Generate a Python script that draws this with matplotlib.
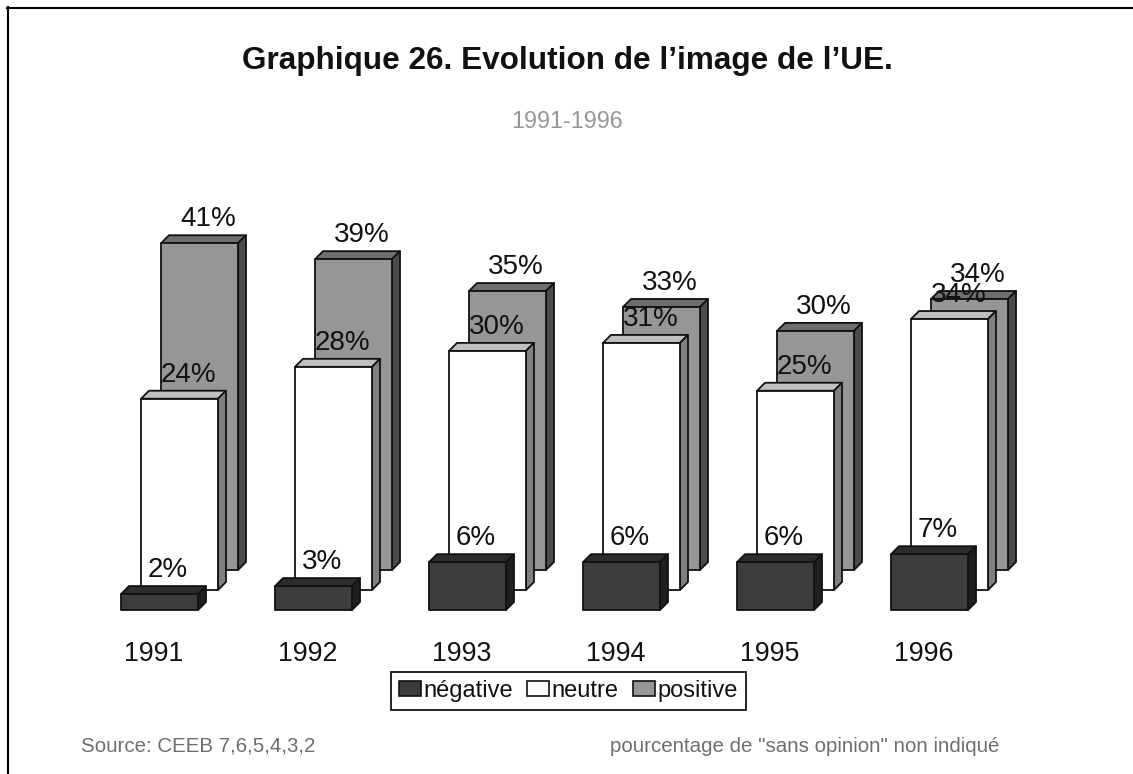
import matplotlib
matplotlib.use("Agg")
import matplotlib.pyplot as plt
from matplotlib.patches import Polygon, Patch

plt.rcParams['font.family'] = ['Liberation Sans', 'DejaVu Sans']

years = ['1991', '1992', '1993', '1994', '1995', '1996']
negative = [2, 3, 6, 6, 6, 7]
neutral = [24, 28, 30, 31, 25, 34]
positive = [41, 39, 35, 33, 30, 34]

W, H = 1133, 774
fig = plt.figure(figsize=(W / 100, H / 100), dpi=100, facecolor='white')
ax = fig.add_axes([0, 0, 1, 1])
ax.axis('off')

# data scale: one category = 154 px, one percent = 7.97 px; category 0 / 0% at px (121, 610)
PX_CAT, PX_PCT, X0, Y0 = 154.0, 7.97, 121.0, 610.0
ax.set_xlim(-X0 / PX_CAT, (W - X0) / PX_CAT)
ax.set_ylim((Y0 - H) / PX_PCT, Y0 / PX_PCT)

bar_w = 77 / PX_CAT
dx, dy = 8 / PX_CAT, 8 / PX_PCT
step_x, step_y = 20 / PX_CAT, 20 / PX_PCT

styles = [
    ('positive', positive, 2, '#969696', '#6e6e6e', '#4b4b4b', 19),
    ('neutre', neutral, 1, '#ffffff', '#c0c0c0', '#808080', 20),
    ('négative', negative, 0, '#3c3c3c', '#2c2c2c', '#1f1f1f', 27),
]

for i in range(len(years)):
    for name, vals, depth, front, top, side, lab in styles:
        v = vals[i]
        x = i + depth * step_x
        b = depth * step_y
        t = b + v
        kw = dict(edgecolor='#111111', linewidth=1.3, joinstyle='round')
        ax.add_patch(Polygon([(x, t), (x + bar_w, t), (x + bar_w + dx, t + dy), (x + dx, t + dy)], facecolor=top, **kw))
        ax.add_patch(Polygon([(x + bar_w, b), (x + bar_w + dx, b + dy), (x + bar_w + dx, t + dy), (x + bar_w, t)], facecolor=side, **kw))
        ax.add_patch(Polygon([(x, b), (x + bar_w, b), (x + bar_w, t), (x, t)], facecolor=front, **kw))
    for name, vals, depth, front, top, side, lab in styles:
        ax.text(i + depth * step_x + lab / PX_CAT, depth * step_y + vals[i] + 24 / PX_PCT,
                f'{vals[i]}%', fontsize=20, color='#111111', ha='left', va='center')

for i, y in enumerate(years):
    ax.text(i + 3 / PX_CAT, -44 / PX_PCT, y, fontsize=19.3, color='#111111', ha='left', va='center')

handles = [Patch(facecolor=s[3], edgecolor='#111111', linewidth=1.2) for s in styles[::-1]]
leg = ax.legend(handles, [s[0] for s in styles[::-1]], loc='center',
                bbox_to_anchor=(568.5 / W, 1 - 691 / H), ncols=3, fontsize=17.0,
                frameon=True, fancybox=False, framealpha=1, edgecolor='#111111',
                handlelength=0.92, handleheight=0.62, handletextpad=0.12, columnspacing=0.6,
                borderpad=0.32, borderaxespad=0)
leg.get_frame().set_linewidth(1.3)
for t in leg.get_texts():
    t.set_color('#111111')

fig.text(567.5 / W, 1 - 61 / H, 'Graphique 26. Evolution de l’image de l’UE.', fontsize=22.7, fontweight='bold',
         color='#111111', ha='center', va='center')
fig.text(567 / W, 1 - 122 / H, '1991-1996', fontsize=16.8, color='#969696', ha='center', va='center')
fig.text(81 / W, 1 - 746 / H, 'Source: CEEB 7,6,5,4,3,2', fontsize=14.8, color='#6e6e6e', ha='left', va='center')
fig.text(610 / W, 1 - 746 / H, 'pourcentage de "sans opinion" non indiqué', fontsize=14.8, color='#6e6e6e', ha='left', va='center')

# chart frame: top and left rules only, inset from the image edge
ax.plot([7.5 / W, 7.5 / W], [0, 1 - 7 / H], transform=ax.transAxes, color='black', lw=1.5, clip_on=False)
ax.plot([7 / W, 1], [1 - 7.5 / H, 1 - 7.5 / H], transform=ax.transAxes, color='black', lw=1.5, clip_on=False)

fig.savefig('out.png', dpi=100)
